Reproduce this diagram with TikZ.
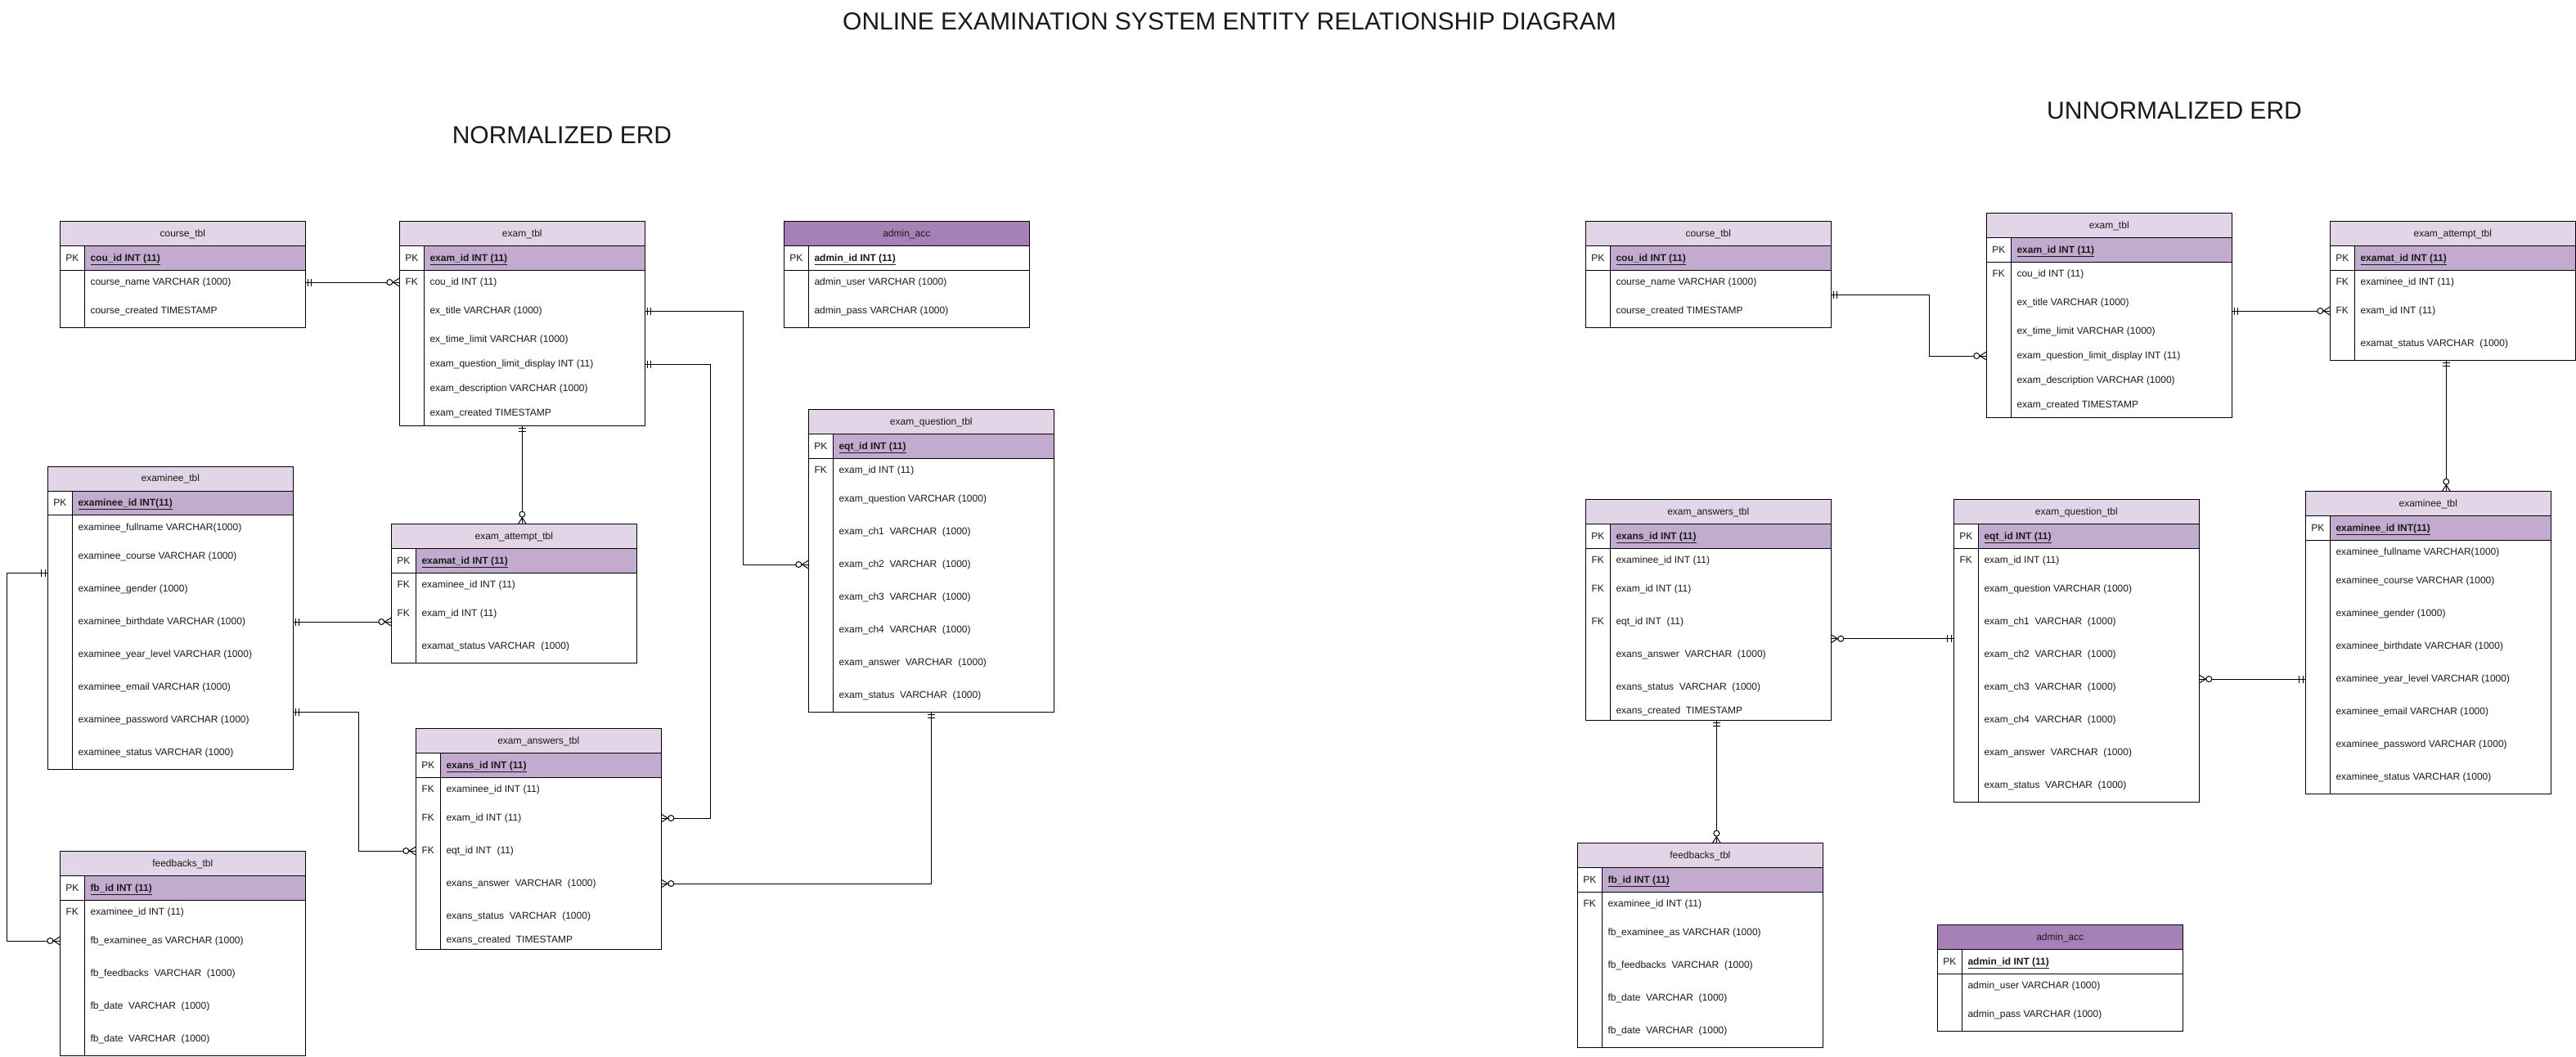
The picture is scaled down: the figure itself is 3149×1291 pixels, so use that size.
\documentclass[tikz,border=0pt]{standalone}
\usepackage{fontspec}
\setmainfont{Liberation Sans}
\usetikzlibrary{calc}
\definecolor{hdrc}{HTML}{E1D5E7}
\definecolor{pkc}{HTML}{C3ABD0}
\definecolor{admc}{HTML}{A680B8}
\definecolor{txtc}{HTML}{1A1A1A}
\tikzset{
  tblbox/.style={draw=black, line width=1pt, minimum width=300pt, anchor=north west, inner sep=0pt, outer sep=0pt},
  tline/.style={draw=black, line width=1pt},
  hdrtxt/.style={font=\fontsize{12}{14}\selectfont, text=txtc, inner sep=0pt, text height=8.6pt, text depth=2pt},
  rowtxt/.style={font=\fontsize{12}{14}\selectfont, text=txtc, anchor=west, inner sep=0pt, text height=8.6pt, text depth=2pt},
  keytxt/.style={rowtxt, anchor=center},
  pktxt/.style={rowtxt, font=\fontsize{12}{14}\selectfont\bfseries},
  conn/.style={draw=black, line width=1pt},
  mk/.style={draw=black, line width=1pt},
  ttl/.style={font=\fontsize{30}{36}\selectfont, text=txtc, inner sep=0pt},
}
% table frame: name, x, top, bottom, title, header colour, pk colour
\newcommand{\ertab}[7]{%
  \fill[#6] (#2,#3) rectangle (#2+300,#3+30);
  \fill[#7] (#2+30,#3+30) rectangle (#2+300,#3+59.6);
  \node[tblbox, minimum height={#4pt-#3pt}] (#1) at (#2,#3) {};
  \draw[tline] (#2,#3+30) -- (#2+300,#3+30) (#2,#3+59.6) -- (#2+300,#3+59.6) (#2+30,#3+30) -- (#2+30,#4);
  \node[hdrtxt] (#1-h) at (#2+150,#3+15) {#5};
}
% primary key row: name, x, top, text
\newcommand{\erpk}[4]{%
  \node[keytxt] (#1-pkk) at (#2+15,#3+45) {PK};
  \node[pktxt] (#1-pk) at (#2+37,#3+45) {\underline{#4}};
}
% attribute row: name, idx, x, y, text
\newcommand{\erow}[5]{\node[rowtxt] (#1-#2) at (#3+37,#4) {#5};}
% FK label: name, idx, x, y
\newcommand{\erkey}[4]{\node[keytxt] (#1-k#2) at (#3+15,#4) {FK};}
% markers: point, outward angle
\newcommand{\mandone}[2]{\begin{scope}[shift={(#1)},rotate=#2]\draw[mk] (3,-4.5) -- (3,4.5) (7.5,-4.5) -- (7.5,4.5);\end{scope}}
\newcommand{\zeromany}[2]{\begin{scope}[shift={(#1)},rotate=#2]\draw[mk] (0,-5) -- (8,0) -- (0,5);\draw[mk,fill=white] (12,0) circle[radius=3.5pt];\end{scope}}
\begin{document}
\begin{tikzpicture}[x=1pt,y=-1pt]
\fill[white] (0,0) rectangle (3149,1291);
\useasboundingbox (0,0) rectangle (3149,1291);

\node[ttl] (title) at (1503,26) {ONLINE EXAMINATION SYSTEM ENTITY RELATIONSHIP DIAGRAM};
\node[ttl] (normt) at (687,165) {NORMALIZED ERD};
\node[ttl] (unnormt) at (2658,135) {UNNORMALIZED ERD};

%================ NORMALIZED =================
% course
\ertab{courseL}{73.3}{270.7}{400.3}{course\_tbl}{hdrc}{pkc}
\erpk{courseL}{73.3}{270.7}{cou\_id INT (11)}
\erow{courseL}{1}{73.3}{345}{course\_name VARCHAR (1000)}
\erow{courseL}{2}{73.3}{380}{course\_created TIMESTAMP}
% exam
\ertab{examL}{488.3}{270.7}{520}{exam\_tbl}{hdrc}{pkc}
\erpk{examL}{488.3}{270.7}{exam\_id INT (11)}
\erkey{examL}{1}{488.3}{345}
\erow{examL}{1}{488.3}{345}{cou\_id INT (11)}
\erow{examL}{2}{488.3}{380}{ex\_title VARCHAR (1000)}
\erow{examL}{3}{488.3}{415}{ex\_time\_limit VARCHAR (1000)}
\erow{examL}{4}{488.3}{445}{exam\_question\_limit\_display INT (11)}
\erow{examL}{5}{488.3}{475}{exam\_description VARCHAR (1000)}
\erow{examL}{6}{488.3}{505}{exam\_created TIMESTAMP}
% admin
\ertab{admL}{958.3}{270.7}{400.3}{admin\_acc}{admc}{white}
\erpk{admL}{958.3}{270.7}{admin\_id INT (11)}
\erow{admL}{1}{958.3}{345}{admin\_user VARCHAR (1000)}
\erow{admL}{2}{958.3}{380}{admin\_pass VARCHAR (1000)}
% exam question
\ertab{eqL}{988.3}{500.7}{870}{exam\_question\_tbl}{hdrc}{pkc}
\erpk{eqL}{988.3}{500.7}{eqt\_id INT (11)}
\erkey{eqL}{1}{988.3}{575}
\erow{eqL}{1}{988.3}{575}{exam\_id INT (11)}
\erow{eqL}{2}{988.3}{610}{exam\_question VARCHAR (1000)}
\erow{eqL}{3}{988.3}{650}{exam\_ch1~ VARCHAR~ (1000)}
\erow{eqL}{4}{988.3}{690}{exam\_ch2~ VARCHAR~ (1000)}
\erow{eqL}{5}{988.3}{730}{exam\_ch3~ VARCHAR~ (1000)}
\erow{eqL}{6}{988.3}{770}{exam\_ch4~ VARCHAR~ (1000)}
\erow{eqL}{7}{988.3}{810}{exam\_answer~ VARCHAR~ (1000)}
\erow{eqL}{8}{988.3}{850}{exam\_status~ VARCHAR~ (1000)}
% examinee
\ertab{eeL}{58.3}{570}{940}{examinee\_tbl}{hdrc}{pkc}
\erpk{eeL}{58.3}{570}{examinee\_id INT(11)}
\erow{eeL}{1}{58.3}{645}{examinee\_fullname VARCHAR(1000)}
\erow{eeL}{2}{58.3}{680}{examinee\_course VARCHAR (1000)}
\erow{eeL}{3}{58.3}{720}{examinee\_gender (1000)}
\erow{eeL}{4}{58.3}{760}{examinee\_birthdate VARCHAR (1000)}
\erow{eeL}{5}{58.3}{800}{examinee\_year\_level VARCHAR (1000)}
\erow{eeL}{6}{58.3}{840}{examinee\_email VARCHAR (1000)}
\erow{eeL}{7}{58.3}{880}{examinee\_password VARCHAR (1000)}
\erow{eeL}{8}{58.3}{920}{examinee\_status VARCHAR (1000)}
% exam attempt
\ertab{attL}{478.3}{640.7}{810}{exam\_attempt\_tbl}{hdrc}{pkc}
\erpk{attL}{478.3}{640.7}{examat\_id INT (11)}
\erkey{attL}{1}{478.3}{715}
\erkey{attL}{2}{478.3}{750}
\erow{attL}{1}{478.3}{715}{examinee\_id INT (11)}
\erow{attL}{2}{478.3}{750}{exam\_id INT (11)}
\erow{attL}{3}{478.3}{790}{examat\_status VARCHAR~ (1000)}
% exam answers
\ertab{ansL}{508.3}{890.7}{1160}{exam\_answers\_tbl}{hdrc}{pkc}
\erpk{ansL}{508.3}{890.7}{exans\_id INT (11)}
\erkey{ansL}{1}{508.3}{965}
\erkey{ansL}{2}{508.3}{1000}
\erkey{ansL}{3}{508.3}{1040}
\erow{ansL}{1}{508.3}{965}{examinee\_id INT (11)}
\erow{ansL}{2}{508.3}{1000}{exam\_id INT (11)}
\erow{ansL}{3}{508.3}{1040}{eqt\_id INT~ (11)}
\erow{ansL}{4}{508.3}{1080}{exans\_answer~ VARCHAR~ (1000)}
\erow{ansL}{5}{508.3}{1120}{exans\_status~ VARCHAR~ (1000)}
\erow{ansL}{6}{508.3}{1149}{exans\_created~ TIMESTAMP}
% feedbacks
\ertab{fbL}{73.3}{1040.7}{1290}{feedbacks\_tbl}{hdrc}{pkc}
\erpk{fbL}{73.3}{1040.7}{fb\_id INT (11)}
\erkey{fbL}{1}{73.3}{1115}
\erow{fbL}{1}{73.3}{1115}{examinee\_id INT (11)}
\erow{fbL}{2}{73.3}{1150}{fb\_examinee\_as VARCHAR (1000)}
\erow{fbL}{3}{73.3}{1190}{fb\_feedbacks~ VARCHAR~ (1000)}
\erow{fbL}{4}{73.3}{1230}{fb\_date~ VARCHAR~ (1000)}
\erow{fbL}{5}{73.3}{1270}{fb\_date~ VARCHAR~ (1000)}

%================ UNNORMALIZED =================
\ertab{courseR}{1938.3}{270.7}{400.3}{course\_tbl}{hdrc}{pkc}
\erpk{courseR}{1938.3}{270.7}{cou\_id INT (11)}
\erow{courseR}{1}{1938.3}{345}{course\_name VARCHAR (1000)}
\erow{courseR}{2}{1938.3}{380}{course\_created TIMESTAMP}

\ertab{examR}{2428.3}{260.7}{510}{exam\_tbl}{hdrc}{pkc}
\erpk{examR}{2428.3}{260.7}{exam\_id INT (11)}
\erkey{examR}{1}{2428.3}{335}
\erow{examR}{1}{2428.3}{335}{cou\_id INT (11)}
\erow{examR}{2}{2428.3}{370}{ex\_title VARCHAR (1000)}
\erow{examR}{3}{2428.3}{405}{ex\_time\_limit VARCHAR (1000)}
\erow{examR}{4}{2428.3}{435}{exam\_question\_limit\_display INT (11)}
\erow{examR}{5}{2428.3}{465}{exam\_description VARCHAR (1000)}
\erow{examR}{6}{2428.3}{495}{exam\_created TIMESTAMP}

\ertab{attR}{2848.3}{270.7}{440}{exam\_attempt\_tbl}{hdrc}{pkc}
\erpk{attR}{2848.3}{270.7}{examat\_id INT (11)}
\erkey{attR}{1}{2848.3}{345}
\erkey{attR}{2}{2848.3}{380}
\erow{attR}{1}{2848.3}{345}{examinee\_id INT (11)}
\erow{attR}{2}{2848.3}{380}{exam\_id INT (11)}
\erow{attR}{3}{2848.3}{420}{examat\_status VARCHAR~ (1000)}

\ertab{ansR}{1938.3}{610.7}{880}{exam\_answers\_tbl}{hdrc}{pkc}
\erpk{ansR}{1938.3}{610.7}{exans\_id INT (11)}
\erkey{ansR}{1}{1938.3}{685}
\erkey{ansR}{2}{1938.3}{720}
\erkey{ansR}{3}{1938.3}{760}
\erow{ansR}{1}{1938.3}{685}{examinee\_id INT (11)}
\erow{ansR}{2}{1938.3}{720}{exam\_id INT (11)}
\erow{ansR}{3}{1938.3}{760}{eqt\_id INT~ (11)}
\erow{ansR}{4}{1938.3}{800}{exans\_answer~ VARCHAR~ (1000)}
\erow{ansR}{5}{1938.3}{840}{exans\_status~ VARCHAR~ (1000)}
\erow{ansR}{6}{1938.3}{869}{exans\_created~ TIMESTAMP}

\ertab{eqR}{2388.3}{610.7}{980}{exam\_question\_tbl}{hdrc}{pkc}
\erpk{eqR}{2388.3}{610.7}{eqt\_id INT (11)}
\erkey{eqR}{1}{2388.3}{685}
\erow{eqR}{1}{2388.3}{685}{exam\_id INT (11)}
\erow{eqR}{2}{2388.3}{720}{exam\_question VARCHAR (1000)}
\erow{eqR}{3}{2388.3}{760}{exam\_ch1~ VARCHAR~ (1000)}
\erow{eqR}{4}{2388.3}{800}{exam\_ch2~ VARCHAR~ (1000)}
\erow{eqR}{5}{2388.3}{840}{exam\_ch3~ VARCHAR~ (1000)}
\erow{eqR}{6}{2388.3}{880}{exam\_ch4~ VARCHAR~ (1000)}
\erow{eqR}{7}{2388.3}{920}{exam\_answer~ VARCHAR~ (1000)}
\erow{eqR}{8}{2388.3}{960}{exam\_status~ VARCHAR~ (1000)}

\ertab{eeR}{2818.3}{600.7}{970}{examinee\_tbl}{hdrc}{pkc}
\erpk{eeR}{2818.3}{600.7}{examinee\_id INT(11)}
\erow{eeR}{1}{2818.3}{675}{examinee\_fullname VARCHAR(1000)}
\erow{eeR}{2}{2818.3}{710}{examinee\_course VARCHAR (1000)}
\erow{eeR}{3}{2818.3}{750}{examinee\_gender (1000)}
\erow{eeR}{4}{2818.3}{790}{examinee\_birthdate VARCHAR (1000)}
\erow{eeR}{5}{2818.3}{830}{examinee\_year\_level VARCHAR (1000)}
\erow{eeR}{6}{2818.3}{870}{examinee\_email VARCHAR (1000)}
\erow{eeR}{7}{2818.3}{910}{examinee\_password VARCHAR (1000)}
\erow{eeR}{8}{2818.3}{950}{examinee\_status VARCHAR (1000)}

\ertab{fbR}{1928.3}{1030.7}{1280}{feedbacks\_tbl}{hdrc}{pkc}
\erpk{fbR}{1928.3}{1030.7}{fb\_id INT (11)}
\erkey{fbR}{1}{1928.3}{1105}
\erow{fbR}{1}{1928.3}{1105}{examinee\_id INT (11)}
\erow{fbR}{2}{1928.3}{1140}{fb\_examinee\_as VARCHAR (1000)}
\erow{fbR}{3}{1928.3}{1180}{fb\_feedbacks~ VARCHAR~ (1000)}
\erow{fbR}{4}{1928.3}{1220}{fb\_date~ VARCHAR~ (1000)}
\erow{fbR}{5}{1928.3}{1260}{fb\_date~ VARCHAR~ (1000)}

\ertab{admR}{2368.3}{1130.7}{1260}{admin\_acc}{admc}{white}
\erpk{admR}{2368.3}{1130.7}{admin\_id INT (11)}
\erow{admR}{1}{2368.3}{1205}{admin\_user VARCHAR (1000)}
\erow{admR}{2}{2368.3}{1240}{admin\_pass VARCHAR (1000)}

%================ CONNECTORS (normalized) =================
\draw[conn] (courseL.east |- courseL-1) -- (examL.west |- courseL-1);
\mandone{courseL.east |- courseL-1}{0}
\zeromany{examL.west |- courseL-1}{180}

\draw[conn] (examL.east |- examL-2) -| ($(eqL.west |- eqL-4)+(-80,0)$) -- (eqL.west |- eqL-4);
\mandone{examL.east |- examL-2}{0}
\zeromany{eqL.west |- eqL-4}{180}

\draw[conn] (examL.east |- examL-4) -| ($(ansL.east |- ansL-2)+(60,0)$) -- (ansL.east |- ansL-2);
\mandone{examL.east |- examL-4}{0}
\zeromany{ansL.east |- ansL-2}{0}

\draw[conn] (examL.south) -- (examL.south |- attL.north);
\mandone{examL.south}{-90}
\zeromany{examL.south |- attL.north}{90}

\draw[conn] (eeL.east |- eeL-4) -- (attL.west |- eeL-4);
\mandone{eeL.east |- eeL-4}{0}
\zeromany{attL.west |- eeL-4}{180}

\coordinate (f0) at ($(eeL.east |- eeL-7)+(0,-10)$);
\draw[conn] (f0) -| ($(ansL.west |- ansL-3)+(-70,0)$) -- (ansL.west |- ansL-3);
\mandone{f0}{0}
\zeromany{ansL.west |- ansL-3}{180}

\coordinate (g0) at ($(eeL.north west)+(0,130.7)$);
\draw[conn] (g0) -| ($(fbL.west |- fbL-2)+(-65,0)$) -- (fbL.west |- fbL-2);
\mandone{g0}{180}
\zeromany{fbL.west |- fbL-2}{180}

\draw[conn] (eqL.south) |- (ansL.east |- ansL-4);
\mandone{eqL.south}{-90}
\zeromany{ansL.east |- ansL-4}{0}

%================ CONNECTORS (unnormalized) =================
\coordinate (ra) at ($(courseR.north east)+(0,90)$);
\draw[conn] (ra) -| ($(examR.west |- examR-4)+(-70,0)$) -- (examR.west |- examR-4);
\mandone{ra}{0}
\zeromany{examR.west |- examR-4}{180}

\draw[conn] (examR.east |- attR-2) -- (attR.west |- attR-2);
\mandone{examR.east |- attR-2}{0}
\zeromany{attR.west |- attR-2}{180}

\coordinate (rc) at ($(attR.south)+(-8,0)$);
\draw[conn] (rc) -- (rc |- eeR.north);
\mandone{rc}{-90}
\zeromany{rc |- eeR.north}{90}

\coordinate (rd) at ($(ansR.north east)+(0,170)$);
\draw[conn] (rd) -- (rd -| eqR.west);
\zeromany{rd}{0}
\mandone{rd -| eqR.west}{180}

\draw[conn] (eqR.east |- eeR-5) -- (eeR.west |- eeR-5);
\zeromany{eqR.east |- eeR-5}{0}
\mandone{eeR.west |- eeR-5}{180}

\coordinate (rf) at ($(ansR.south)+(10,0)$);
\draw[conn] (rf) -- (rf |- fbR.north);
\mandone{rf}{-90}
\zeromany{rf |- fbR.north}{90}
\end{tikzpicture}
\end{document}
